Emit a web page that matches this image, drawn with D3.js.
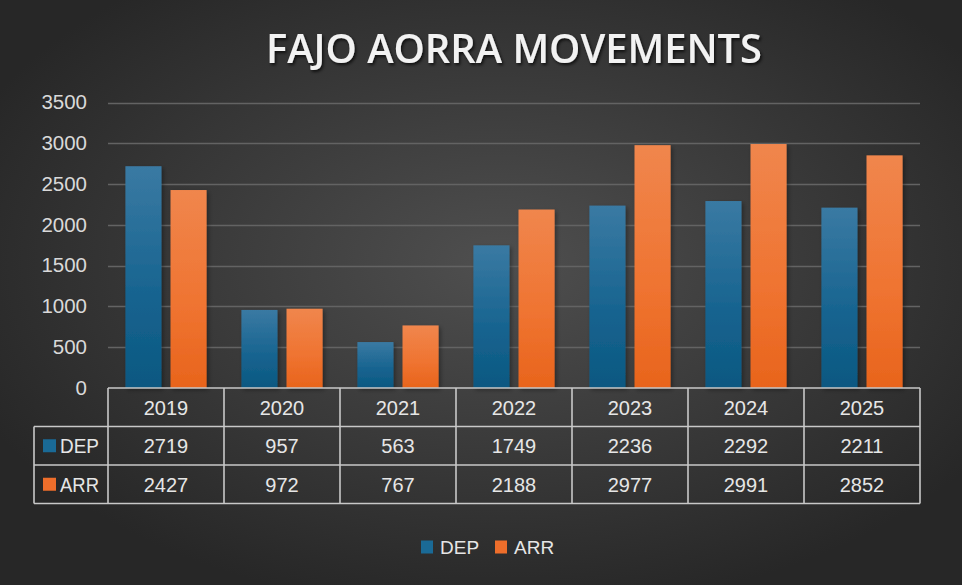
<!DOCTYPE html>
<html>
<head>
<meta charset="utf-8">
<script src="https://cdn.jsdelivr.net/npm/d3@7"></script>
<style>
  body { margin: 0; background: #333; }
  svg { display: block; }
</style>
</head>
<body>
<div id="chart"></div>
<script>
var svgWidth = 962;
var svgHeight = 585;

// chart values
var years = ["2019", "2020", "2021", "2022", "2023", "2024", "2025"];
var depValues = [2719, 957, 563, 1749, 2236, 2292, 2211];
var arrValues = [2427, 972, 767, 2188, 2977, 2991, 2852];
var seriesNames = ["DEP", "ARR"];
var yTicks = [0, 500, 1000, 1500, 2000, 2500, 3000, 3500];

var colors = { DEP: "#1a6a96", ARR: "#ee6e2b" };

var plot = { left: 108, right: 920, top: 102.5, bottom: 388 };
var rowH = 38.5;

var svg = d3.select("#chart")
  .append("svg")
  .attr("width", svgWidth)
  .attr("height", svgHeight);

var defs = svg.append("defs");

// background radial gradient
var bg = defs.append("radialGradient")
  .attr("id", "bg")
  .attr("cx", "52%").attr("cy", "45%").attr("r", "60%");
bg.append("stop").attr("offset", "0%").attr("stop-color", "#4f4f4f");
bg.append("stop").attr("offset", "100%").attr("stop-color", "#272727");

var gDep = defs.append("linearGradient").attr("id", "gDEP")
  .attr("x1", 0).attr("y1", 0).attr("x2", 0).attr("y2", 1);
gDep.append("stop").attr("offset", "0%").attr("stop-color", "#3a7aa3");
gDep.append("stop").attr("offset", "60%").attr("stop-color", "#16638f");
gDep.append("stop").attr("offset", "100%").attr("stop-color", "#0b5881");

var gArr = defs.append("linearGradient").attr("id", "gARR")
  .attr("x1", 0).attr("y1", 0).attr("x2", 0).attr("y2", 1);
gArr.append("stop").attr("offset", "0%").attr("stop-color", "#f0864d");
gArr.append("stop").attr("offset", "60%").attr("stop-color", "#ef7330");
gArr.append("stop").attr("offset", "100%").attr("stop-color", "#e8641c");

var shadow = defs.append("filter").attr("id", "shadow")
  .attr("x", "-20%").attr("y", "-20%").attr("width", "150%").attr("height", "150%");
shadow.append("feDropShadow")
  .attr("dx", 2).attr("dy", 2).attr("stdDeviation", 2)
  .attr("flood-color", "#000").attr("flood-opacity", 0.35);

var tshadow = defs.append("filter").attr("id", "tshadow")
  .attr("x", "-10%").attr("y", "-30%").attr("width", "120%").attr("height", "160%");
tshadow.append("feDropShadow")
  .attr("dx", 1.5).attr("dy", 2).attr("stdDeviation", 1.5)
  .attr("flood-color", "#000").attr("flood-opacity", 0.7);

svg.append("rect")
  .attr("width", svgWidth)
  .attr("height", svgHeight)
  .attr("fill", "url(#bg)");

// title
svg.append("text")
  .attr("x", 514)
  .attr("y", 63)
  .attr("text-anchor", "middle")
  .attr("font-family", "'Open Sans', sans-serif")
  .attr("font-weight", 600)
  .attr("font-size", 40)
  .attr("fill", "#f2f2f2")
  .attr("filter", "url(#tshadow)")
  .attr("textLength", 496)
  .attr("lengthAdjust", "spacingAndGlyphs")
  .text("FAJO AORRA MOVEMENTS");

// scales
var x = d3.scaleBand()
  .domain(years)
  .range([plot.left, plot.right])
  .paddingInner(0.3)
  .paddingOuter(0.15);

var xs = d3.scaleBand()
  .domain(seriesNames)
  .range([0, x.bandwidth()])
  .paddingInner(0.2);

var y = d3.scaleLinear()
  .domain([0, 3500])
  .range([plot.bottom, plot.top]);

// gridlines
svg.append("g")
  .selectAll("line")
  .data(yTicks.slice(1))
  .enter()
  .append("line")
  .attr("x1", plot.left)
  .attr("x2", plot.right)
  .attr("y1", d => Math.round(y(d)) + 0.5)
  .attr("y2", d => Math.round(y(d)) + 0.5)
  .attr("stroke", "#636363")
  .attr("stroke-width", 1.3);

// y axis labels
var leftAxis = d3.axisLeft(y)
  .tickValues(yTicks)
  .tickFormat(d3.format("d"))
  .tickSize(0)
  .tickPadding(0);
var yAxis = svg.append("g")
  .attr("transform", "translate(87,0)")
  .call(leftAxis);
yAxis.select(".domain").remove();
yAxis.selectAll("text")
  .attr("font-family", "'Liberation Sans', Arial, sans-serif")
  .attr("font-size", 20.5)
  .attr("fill", "#d9d9d9")
  .attr("dy", "0.3em");

// bars
var rows = years.map((yr, i) => ({ year: yr, DEP: depValues[i], ARR: arrValues[i] }));

var groups = svg.append("g")
  .selectAll("g")
  .data(rows)
  .enter()
  .append("g")
  .attr("transform", d => `translate(${x(d.year)},0)`);

groups.selectAll("rect")
  .data(d => seriesNames.map(s => ({ key: s, value: d[s] })))
  .enter()
  .append("rect")
  .attr("x", d => xs(d.key))
  .attr("width", xs.bandwidth())
  .attr("y", d => y(d.value))
  .attr("height", d => y(0) - y(d.value))
  .attr("fill", d => `url(#g${d.key})`)
  .attr("filter", "url(#shadow)");

// data table
var step = x.step();
var colLeft = d => x(d) - (step - x.bandwidth()) / 2;
var table = svg.append("g")
  .attr("stroke", "#c8c8c8")
  .attr("stroke-width", 1.6)
  .attr("fill", "none");

var labelLeft = 34;
var tableBottom = plot.bottom + rowH * 3;

// horizontal lines
table.append("line")
  .attr("x1", plot.left).attr("x2", plot.right)
  .attr("y1", plot.bottom).attr("y2", plot.bottom);
[1, 2, 3].forEach(function(r) {
  table.append("line")
    .attr("x1", labelLeft).attr("x2", plot.right)
    .attr("y1", plot.bottom + rowH * r).attr("y2", plot.bottom + rowH * r);
});
// vertical lines
table.append("line")
  .attr("x1", labelLeft).attr("x2", labelLeft)
  .attr("y1", plot.bottom + rowH).attr("y2", tableBottom);
years.forEach(function(yr) {
  table.append("line")
    .attr("x1", colLeft(yr)).attr("x2", colLeft(yr))
    .attr("y1", plot.bottom).attr("y2", tableBottom);
});
table.append("line")
  .attr("x1", plot.right).attr("x2", plot.right)
  .attr("y1", plot.bottom).attr("y2", tableBottom);

var textAttrs = function(sel) {
  sel.attr("font-family", "'Liberation Sans', Arial, sans-serif")
    .attr("font-size", 20)
    .attr("fill", "#e6e6e6");
};

// header row
svg.append("g").selectAll("text")
  .data(years)
  .enter()
  .append("text")
  .attr("x", d => colLeft(d) + step / 2)
  .attr("y", plot.bottom + rowH / 2 + 7.5)
  .attr("text-anchor", "middle")
  .call(textAttrs)
  .text(d => d);

// series rows
var seriesValues = { DEP: depValues, ARR: arrValues };
seriesNames.forEach(function(s, r) {
  var rowY = plot.bottom + rowH * (r + 1);
  var g = svg.append("g");
  g.append("rect")
    .attr("x", labelLeft + 9)
    .attr("y", rowY + rowH / 2 - 6.5)
    .attr("width", 13)
    .attr("height", 13)
    .attr("fill", colors[s]);
  g.append("text")
    .attr("x", labelLeft + 26)
    .attr("y", rowY + rowH / 2 + 7.5)
    .call(textAttrs)
    .attr("textLength", 39)
    .attr("lengthAdjust", "spacingAndGlyphs")
    .text(s);
  g.selectAll("text.val")
    .data(seriesValues[s])
    .enter()
    .append("text")
    .attr("class", "val")
    .attr("x", (d, i) => colLeft(years[i]) + step / 2)
    .attr("y", rowY + rowH / 2 + 7.5)
    .attr("text-anchor", "middle")
    .call(textAttrs)
    .text(d => d);
});

// legend
var legend = svg.append("g").attr("transform", "translate(421,547)");
var legendItems = legend.selectAll("g")
  .data(seriesNames)
  .enter()
  .append("g")
  .attr("transform", (d, i) => `translate(${i * 74},0)`);
legendItems.append("rect")
  .attr("x", 0)
  .attr("y", -6.5)
  .attr("width", 12)
  .attr("height", 13)
  .attr("fill", d => colors[d]);
legendItems.append("text")
  .attr("x", 19)
  .attr("y", 7)
  .call(textAttrs)
  .attr("font-size", 19)
  .text(d => d);
</script>
</body>
</html>
